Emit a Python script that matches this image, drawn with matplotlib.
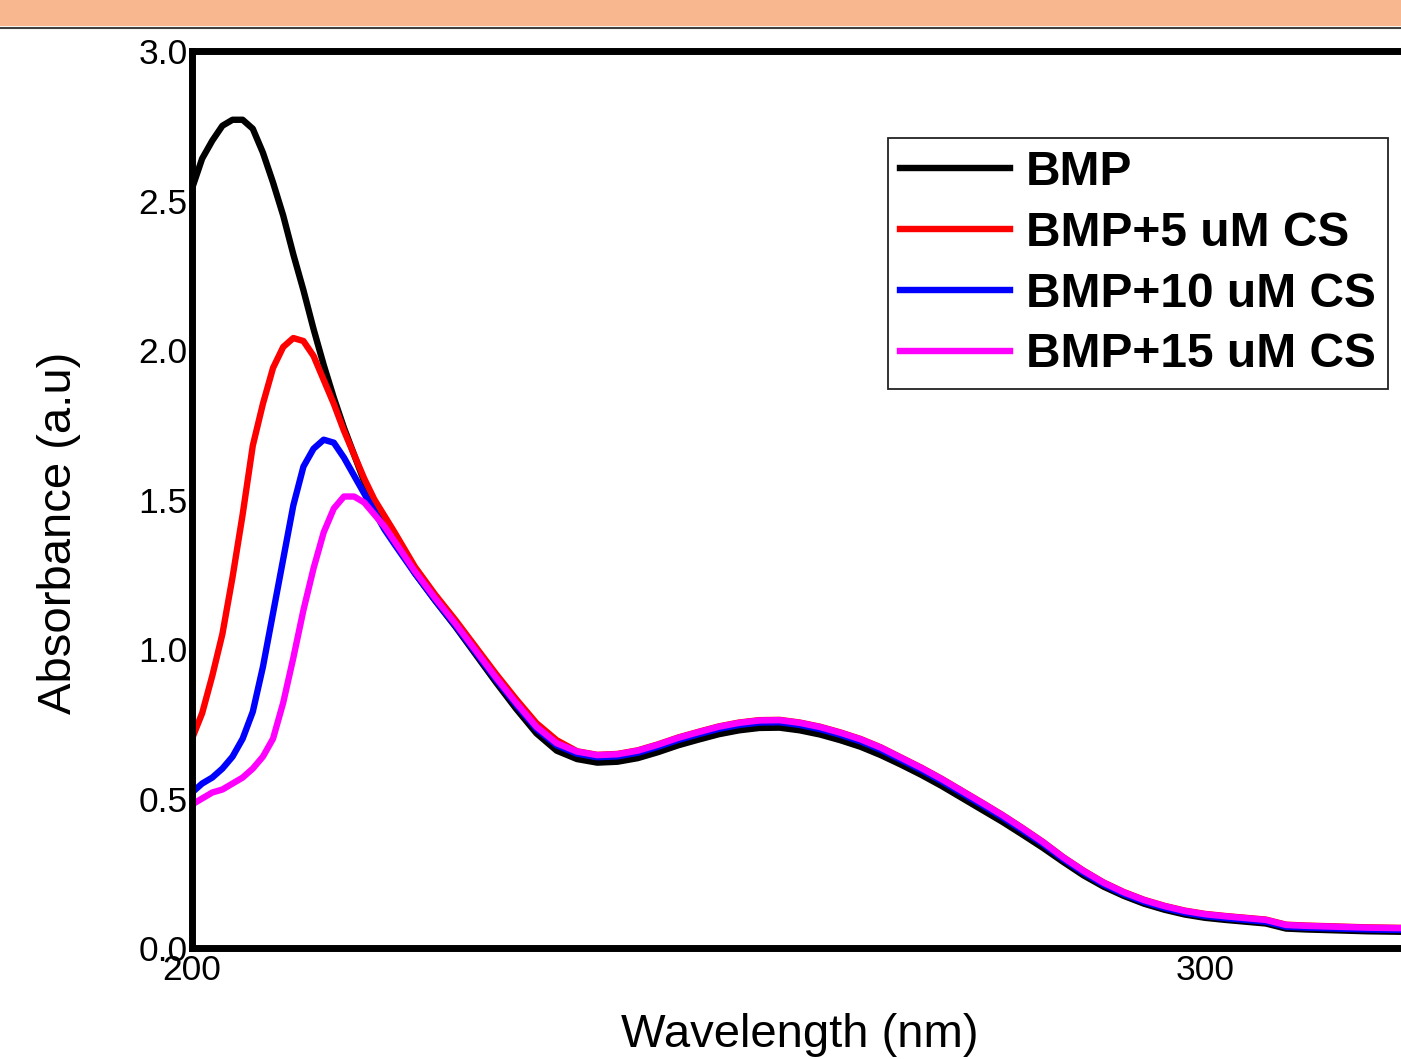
import matplotlib.pyplot as plt
from matplotlib.patches import Rectangle
from matplotlib.lines import Line2D

plt.rcParams['font.family'] = ['Liberation Sans', 'DejaVu Sans']

# wavelength grid: 1 nm steps over the band region, 2 nm afterwards
wavelength = list(range(200, 221)) + list(range(222, 321, 2))

bmp = [2.54, 2.64, 2.70, 2.75, 2.77, 2.77, 2.74, 2.66, 2.56, 2.45, 2.32,
       2.20, 2.07, 1.95, 1.84, 1.74, 1.65, 1.56, 1.48, 1.42, 1.36,
       1.254, 1.162, 1.075, 0.982, 0.889, 0.800, 0.718, 0.660, 0.632, 0.620,
       0.623, 0.635, 0.655, 0.678, 0.697, 0.715, 0.728, 0.736, 0.737, 0.728,
       0.714, 0.695, 0.673, 0.645, 0.613, 0.579, 0.542, 0.502, 0.462, 0.422,
       0.379, 0.335, 0.288, 0.243, 0.205, 0.174, 0.148, 0.128, 0.112, 0.101,
       0.094, 0.088, 0.082, 0.065, 0.062, 0.060, 0.058, 0.056, 0.055, 0.054]

cs5 = [0.70, 0.785, 0.91, 1.05, 1.24, 1.45, 1.68, 1.82, 1.94, 2.01, 2.04,
       2.03, 1.98, 1.90, 1.82, 1.73, 1.65, 1.57, 1.50, 1.445, 1.39,
       1.275, 1.182, 1.097, 1.007, 0.917, 0.832, 0.752, 0.695, 0.658, 0.646,
       0.649, 0.661, 0.681, 0.704, 0.723, 0.741, 0.754, 0.762, 0.763, 0.754,
       0.740, 0.721, 0.699, 0.671, 0.637, 0.603, 0.566, 0.526, 0.486, 0.445,
       0.401, 0.355, 0.304, 0.259, 0.219, 0.187, 0.161, 0.141, 0.125, 0.114,
       0.107, 0.101, 0.095, 0.078, 0.075, 0.073, 0.071, 0.069, 0.068, 0.067]

cs10 = [0.52, 0.55, 0.57, 0.60, 0.64, 0.70, 0.79, 0.94, 1.12, 1.30, 1.48,
        1.61, 1.67, 1.70, 1.69, 1.64, 1.58, 1.52, 1.46, 1.40, 1.35,
        1.253, 1.163, 1.078, 0.988, 0.898, 0.813, 0.733, 0.678, 0.650, 0.638,
        0.641, 0.653, 0.673, 0.696, 0.715, 0.733, 0.746, 0.754, 0.755, 0.746,
        0.732, 0.713, 0.691, 0.663, 0.629, 0.595, 0.558, 0.518, 0.478, 0.437,
        0.393, 0.348, 0.297, 0.252, 0.212, 0.180, 0.154, 0.134, 0.118, 0.107,
        0.100, 0.094, 0.088, 0.071, 0.068, 0.066, 0.064, 0.062, 0.061, 0.060]

cs15 = [0.48, 0.50, 0.52, 0.53, 0.55, 0.57, 0.60, 0.64, 0.70, 0.82, 0.97,
        1.13, 1.27, 1.39, 1.47, 1.51, 1.51, 1.49, 1.45, 1.41, 1.36,
        1.260, 1.170, 1.085, 0.995, 0.905, 0.820, 0.740, 0.685, 0.657, 0.645,
        0.648, 0.660, 0.680, 0.703, 0.722, 0.740, 0.753, 0.761, 0.762, 0.753,
        0.739, 0.720, 0.698, 0.670, 0.636, 0.602, 0.565, 0.525, 0.485, 0.444,
        0.400, 0.354, 0.303, 0.258, 0.218, 0.186, 0.160, 0.140, 0.124, 0.113,
        0.106, 0.100, 0.094, 0.077, 0.074, 0.072, 0.070, 0.068, 0.067, 0.066]

labels = ['BMP', 'BMP+5 uM CS', 'BMP+10 uM CS', 'BMP+15 uM CS']
colors = ['black', 'red', 'blue', 'magenta']

W, H = 1401, 1059
fig = plt.figure(figsize=(W / 100, H / 100), dpi=100)

# banner strip across the top
fig.patches.append(Rectangle((0, 1 - 26 / H), 1, 26 / H, transform=fig.transFigure,
                             facecolor='#f8b78f', edgecolor='none', zorder=0))
fig.add_artist(Line2D([0, 1], [1 - 27.5 / H, 1 - 27.5 / H], transform=fig.transFigure,
                      color='#404040', lw=1.5))

px_per_nm = (1205 - 192) / 100
x0, x1 = 200, 320
ax = fig.add_axes([192 / W, (H - 948) / H, (x1 - x0) * px_per_nm / W, (948 - 51) / H])

for y, c, lab in zip([bmp, cs5, cs10, cs15], colors, labels):
    ax.plot(wavelength, y, color=c, lw=4.6, label=lab, solid_joinstyle='round')

ax.set_xlim(x0, x1)
ax.set_ylim(0, 3.0)
ax.set_xticks([200, 300])
ax.set_yticks([0, 0.5, 1.0, 1.5, 2.0, 2.5, 3.0])
ax.set_yticklabels(['0.0', '0.5', '1.0', '1.5', '2.0', '2.5', '3.0'])
ax.tick_params(axis='both', length=0, labelsize=25.5)
ax.tick_params(axis='y', pad=3)
ax.tick_params(axis='x', pad=4)

for s in ax.spines.values():
    s.set_linewidth(5)

ax.set_xlabel('Wavelength (nm)', fontsize=34, labelpad=19)
ax.set_ylabel('Absorbance (a.u)', fontsize=34)
ax.yaxis.set_label_coords(81 / W, 1 - 533 / H, transform=fig.transFigure)

leg = ax.legend(loc='upper right', bbox_to_anchor=(1388 / W, 1 - 138 / H),
                bbox_transform=fig.transFigure, borderaxespad=0,
                prop={'weight': 'bold', 'size': 34.5}, handlelength=2.3,
                handletextpad=0.33, labelspacing=0.33, borderpad=0.25,
                fancybox=False, framealpha=1)
leg.get_frame().set_edgecolor('#222222')
leg.get_frame().set_linewidth(1.3)

fig.savefig('out.png', dpi=100)
